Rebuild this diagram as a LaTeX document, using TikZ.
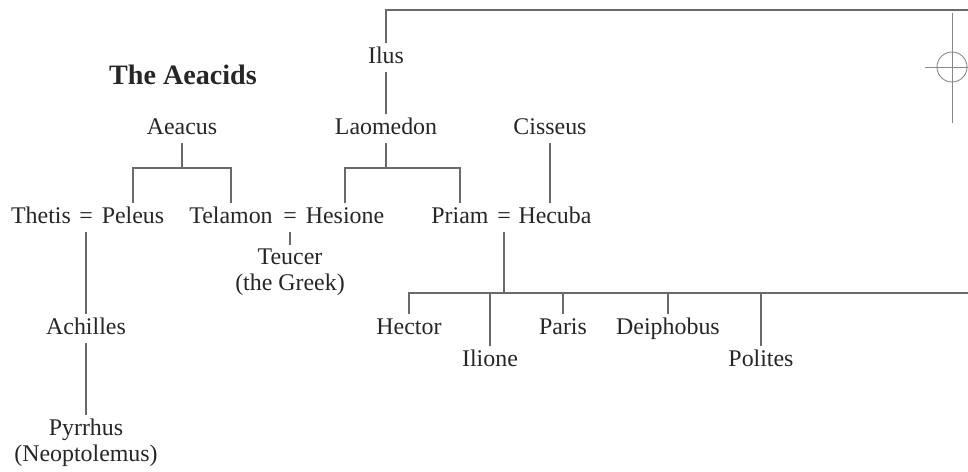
\documentclass[tikz,border=0pt]{standalone}
\usepackage{fontspec}
\setmainfont{Liberation Serif}
\usetikzlibrary{calc}
\definecolor{ink}{HTML}{262626}
\definecolor{rule}{HTML}{6A6A6A}
\tikzstyle{person}=[text=ink, font=\fontsize{13.6}{15}\selectfont, inner sep=2pt, text height=9.5pt, text depth=3pt, yshift=-1.5pt]
\tikzstyle{person2}=[text=ink, font=\fontsize{13.6}{15}\selectfont, inner sep=2pt, align=center]
\tikzstyle{wed}=[text=ink, font=\fontsize{13.6}{15}\selectfont, inner sep=2pt, text height=9.5pt, text depth=3pt, yshift=-1.5pt]
\tikzstyle{line} = [draw=rule, line width=1.1pt]
\tikzstyle{regmark} = [draw=rule!80, line width=0.5pt]

\begin{document}
\begin{tikzpicture}[x=0.02cm, y=-0.02cm]
    \useasboundingbox (0,0) rectangle (968,472);

    \node[text=ink, font=\fontsize{16}{16}\selectfont\bfseries] (title) at (183,75) {The Aeacids};

     \foreach \x/\y/\name/\text in {386/55/ilus/Ilus, 182/126/aeacus/Aeacus, 386/126/laomedon/Laomedon, 550/126/cisseus/Cisseus,
        41/215/thetis/Thetis, 133/215/peleus/Peleus, 231/215/telamon/Telamon, 345/215/hesione/Hesione,
        460/215/priam/Priam, 555/215/hecuba/Hecuba,
        86/326/achilles/Achilles,
        409/326/hector/Hector, 490/358/ilione/Ilione, 563/326/paris/Paris, 668/326/deiphobus/Deiphobus, 761/358/polites/Polites}
        \node[person] (\name) at (\x,\y) {\text};

     \foreach \x/\y/\name/\text in {290/272/teucer/{Teucer\\(the Greek)}, 86/443/pyrrhus/{Pyrrhus\\(Neoptolemus)}}
        \node[person2] (\name) at (\x,\y) {\text};

     \foreach \x/\name in {86/eqtp, 290/eqth, 504/eqph}
        \node[wed] (\name) at (\x,215) {=};

    \coordinate (topend) at (968,10);
    \coordinate (aebar) at (182,168);
    \coordinate (labar) at (386,168);
    \coordinate (pbar) at (504,293);
    \coordinate (barend) at (968,293);

    % Ilus line and Laomedon
    \draw[line] (ilus.north) |- (topend);
    \draw[line] (ilus.south) -- (laomedon.north);

    % children of Aeacus
    \draw[line] (aeacus.south) -- (aebar);
    \draw[line] (peleus.north) |- (aebar) -| (telamon.north);

    % children of Laomedon
    \draw[line] (laomedon.south) -- (labar);
    \draw[line] (hesione.north) |- (labar) -| (priam.north);

    \draw[line] (cisseus.south) -- (cisseus.south |- hecuba.north);

    \draw[line] (eqtp.south) -- (achilles.north);
    \draw[line] (achilles.south) -- (pyrrhus.north);
    \draw[line] (eqth.south) -- (teucer.north);

    % children of Priam
    \draw[line] (eqph.south) -- (pbar);
    \draw[line] (hector.north) |- (barend);
    \foreach \name in {ilione, paris, deiphobus, polites}
        \draw[line] (\name.north) -- (\name.north |- pbar);

    % registration mark
    \draw[regmark] (952,67) circle (15);
    \draw[regmark] (952,13) -- (952,123);
    \draw[regmark] (925,67) -- (968,67);
\end{tikzpicture}
\end{document}
